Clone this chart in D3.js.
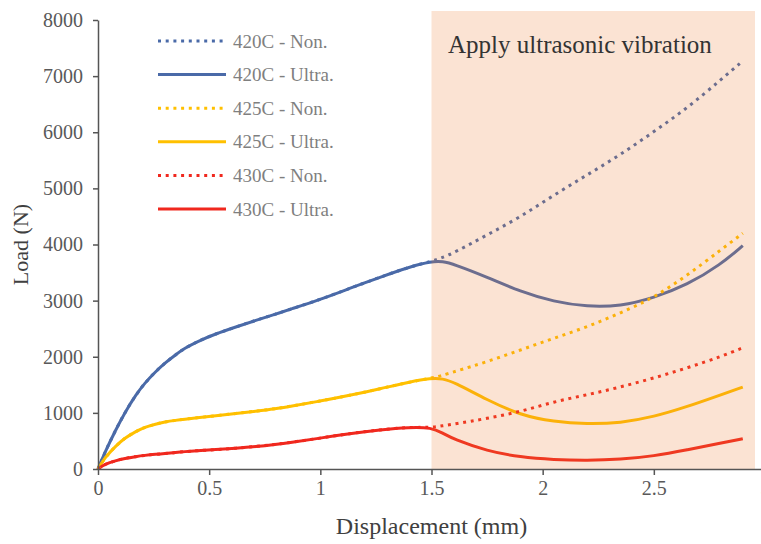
<!DOCTYPE html>
<html>
<head>
<meta charset="utf-8">
<script src="https://cdn.jsdelivr.net/npm/d3@7"></script>
<style>
  body { margin: 0; background: #fff; }
  svg { display: block; font-family: "Liberation Serif", "Times New Roman", serif; }
</style>
</head>
<body>
<svg class="chart-img"></svg>
<script>
// displacement (mm) before / after the vibration is switched on
const xPre = [0, 0.03, 0.08, 0.12, 0.17, 0.21, 0.26, 0.3, 0.35, 0.39, 0.44, 0.53, 0.62, 0.71, 0.8, 0.86, 1.0, 1.13, 1.27, 1.4, 1.5];
const xPost = [1.55, 1.6, 1.75, 1.9, 2.05, 2.2, 2.35, 2.5, 2.65, 2.8, 2.9];

// load (N)
const load420Pre = [0, 290, 700, 1000, 1320, 1530, 1740, 1885, 2040, 2150, 2260, 2410, 2530, 2650, 2760, 2840, 3020, 3215, 3420, 3600, 3700];
const load420Non = [3770, 3850, 4170, 4490, 4880, 5240, 5600, 6010, 6430, 6930, 7270];
const load420Ultra = [3700, 3650, 3420, 3160, 2980, 2890, 2900, 3050, 3280, 3640, 3980];

const load425Pre = [0, 200, 410, 550, 670, 745, 800, 838, 868, 888, 910, 950, 990, 1030, 1075, 1115, 1210, 1310, 1430, 1550, 1620];
const load425Non = [1670, 1730, 1910, 2120, 2330, 2530, 2780, 3050, 3450, 3900, 4200];
const load425Ultra = [1610, 1550, 1230, 960, 840, 800, 820, 930, 1110, 1320, 1460];

const load430Pre = [0, 85, 150, 190, 222, 243, 262, 275, 292, 310, 325, 345, 370, 400, 440, 470, 550, 630, 700, 745, 740];
const load430Non = [770, 800, 900, 1020, 1200, 1320, 1460, 1620, 1800, 2000, 2160];
const load430Ultra = [640, 530, 320, 210, 165, 150, 170, 230, 340, 460, 540];

const xTicks = [0, 0.5, 1, 1.5, 2, 2.5, 3];
const yTicks = [0, 1000, 2000, 3000, 4000, 5000, 6000, 7000, 8000];
const shadeRange = [1.5, 2.955];

const seriesNames = ['420C - Non.', '420C - Ultra.', '425C - Non.', '425C - Ultra.', '430C - Non.', '430C - Ultra.'];
const seriesColors = ['#4a6aa8', '#4a6aa8', '#ffc000', '#ffc000', '#f0281e', '#f0281e'];

const width = 761, height = 544;
const dotDash = '3,4.7';

const zipSeries = (pre, post) => pre.map((v, i) => [xPre[i], v])
    .concat(post.map((v, i) => [xPost[i], v]));

const series = [
    {data: zipSeries(load420Pre, load420Non), dotted: true},
    {data: zipSeries(load420Pre, load420Ultra), dotted: false},
    {data: zipSeries(load425Pre, load425Non), dotted: true},
    {data: zipSeries(load425Pre, load425Ultra), dotted: false},
    {data: zipSeries(load430Pre, load430Non), dotted: true},
    {data: zipSeries(load430Pre, load430Ultra), dotted: false},
];
series.forEach((s, i) => { s.name = seriesNames[i]; s.color = seriesColors[i]; });

const chart = d3.select('.chart-img')
    .attr('width', width)
    .attr('height', height);

const xScale = d3.scaleLinear().domain([0, 3]).range([98, 765]);
const yScale = d3.scaleLinear().domain([0, 8000]).range([469, 20]);

const line = d3.line()
    .x(d => xScale(d[0]))
    .y(d => yScale(d[1]))
    .curve(d3.curveBasis);

// solid lines first, dotted on top
const drawOrder = series.filter(s => !s.dotted).concat(series.filter(s => s.dotted));
chart.append('g')
    .selectAll('path')
    .data(drawOrder)
    .enter()
    .append('path')
    .attr('d', s => line(s.data))
    .attr('fill', 'none')
    .attr('stroke', s => s.color)
    .attr('stroke-width', 3)
    .attr('stroke-dasharray', s => s.dotted ? dotDash : null);

// shaded vibration window, laid over the curves
chart.append('rect')
    .attr('x', xScale(shadeRange[0]))
    .attr('y', yScale(8160))
    .attr('width', xScale(shadeRange[1]) - xScale(shadeRange[0]))
    .attr('height', yScale(0) - yScale(8160))
    .attr('fill', 'rgb(237,125,49)')
    .attr('opacity', 0.21);

chart.append('text')
    .attr('x', 448)
    .attr('y', 53)
    .attr('font-size', 25)
    .attr('fill', '#333')
    .text('Apply ultrasonic vibration');

// axes
const xAxis = chart.append('g')
    .attr('transform', `translate(0, ${yScale(0)})`)
    .call(d3.axisBottom(xScale).tickValues(xTicks).tickFormat(d3.format('~g'))
        .tickSize(6).tickSizeOuter(0).tickPadding(6));

const yAxis = chart.append('g')
    .attr('transform', `translate(${xScale(0)}, 0)`)
    .call(d3.axisLeft(yScale).tickValues(yTicks).tickFormat(d3.format('d'))
        .tickSize(5).tickSizeOuter(0).tickPadding(10));

[xAxis, yAxis].forEach(ax => {
    ax.attr('font-family', null).attr('font-size', null);
    ax.select('.domain').attr('stroke', '#555').attr('stroke-width', 1.5);
    ax.selectAll('.tick line').attr('stroke', '#555').attr('stroke-width', 1.5);
    ax.selectAll('.tick text').attr('fill', '#595959').attr('font-size', 20);
});

chart.append('text')
    .attr('x', xScale(1.5))
    .attr('y', 534)
    .attr('text-anchor', 'middle')
    .attr('font-size', 24)
    .attr('fill', '#404040')
    .text('Displacement (mm)');

chart.append('text')
    .attr('transform', `translate(28, ${yScale(4000)}) rotate(-90)`)
    .attr('text-anchor', 'middle')
    .attr('font-size', 22)
    .attr('fill', '#404040')
    .text('Load (N)');

// legend
const legend = chart.append('g')
    .selectAll('g')
    .data(series)
    .enter()
    .append('g')
    .attr('transform', (s, i) => `translate(158, ${41 + i * 33.6})`);

legend.append('line')
    .attr('x1', 0)
    .attr('x2', 68)
    .attr('stroke', s => s.color)
    .attr('stroke-width', 3)
    .attr('stroke-dasharray', s => s.dotted ? dotDash : null);

legend.append('text')
    .attr('x', 75)
    .attr('dy', '0.35em')
    .attr('font-size', 19)
    .attr('fill', '#7f7f7f')
    .text(s => s.name);
</script>
</body>
</html>
